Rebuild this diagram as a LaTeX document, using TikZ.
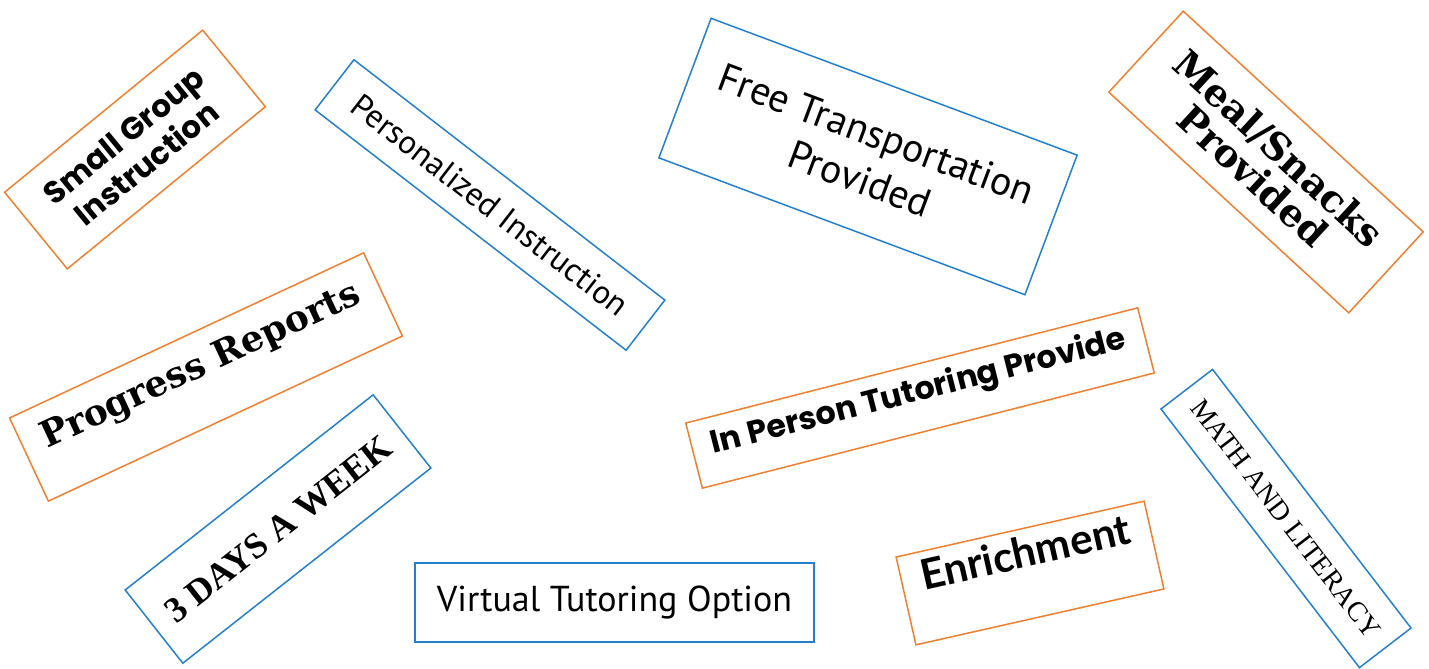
\documentclass[tikz,border=0pt]{standalone}
\usepackage{fontspec}
\usepackage{tikz}
\usetikzlibrary{positioning}

\newfontfamily\geofont{Poppins}
\newfontfamily\slabfont{DejaVu Serif}
\newfontfamily\handfont{PT Sans}
\newfontfamily\heavyfont{Lato}
\newfontfamily\capsfont{Liberation Serif}

\definecolor{tagorange}{RGB}{240,128,48}
\definecolor{tagblue}{RGB}{36,128,206}

\begin{document}
\begin{tikzpicture}[x=0.5pt,y=-0.5pt,
  tag/.style={draw,line width=0.75pt,inner sep=0pt,outer sep=0pt,align=center,text=black},
  orangetag/.style={tag,draw=tagorange},
  bluetag/.style={tag,draw=tagblue}]
 %\draw[help lines] (0,0) grid[step=100] (1429,669);
 \useasboundingbox (0,0) rectangle (1429,669);

 \node[orangetag,rotate=39.3,minimum width=128pt,minimum height=49.5pt,font=\geofont\bfseries\fontsize{15.5}{18}\selectfont] (small) at (135,149.5) {Small Group\\Instruction};
 \node[bluetag,rotate=-37.7,minimum width=196.5pt,minimum height=31.7pt,font=\handfont\fontsize{16.5}{19}\selectfont] (personal) at (490,205) {Personalized Instruction};
 \node[bluetag,rotate=-20.5,minimum width=195.4pt,minimum height=74.5pt,font=\handfont\fontsize{20}{24}\selectfont] (transport) at (868,156.5) {Free Transportation\\Provided};
 \node[orangetag,rotate=-42.6,minimum width=163pt,minimum height=55pt,font=\slabfont\bfseries\fontsize{19}{19}\selectfont] (meal) at (1266,162) {Meal/Snacks\\Provided};

 \node[orangetag,rotate=25,minimum width=195.3pt,minimum height=45.9pt,text depth=15pt,font=\slabfont\bfseries\fontsize{18}{21}\selectfont] (progress) at (206,377) {Progress Reports};
 \node[bluetag,rotate=38.2,minimum width=157.8pt,minimum height=46.6pt,font=\capsfont\bfseries\fontsize{18}{21}\selectfont] (days) at (278,529) {3 DAYS A WEEK};
 \node[bluetag,minimum width=199.5pt,minimum height=39.5pt,font=\handfont\fontsize{18}{21}\selectfont] (virtual) at (614.5,602.5) {Virtual Tutoring Option};

 \node[orangetag,rotate=14.3,minimum width=233.2pt,minimum height=33.6pt,text depth=10pt,font=\geofont\bfseries\fontsize{15.9}{18}\selectfont] (inperson) at (920,398) {In Person Tutoring Provide};
 \node[orangetag,rotate=12.7,minimum width=127.1pt,minimum height=45pt,text depth=22pt,font=\heavyfont\bfseries\fontsize{21}{24}\selectfont] (enrich) at (1030,573) {Enrichment};
 \node[bluetag,rotate=-52.5,minimum width=163pt,minimum height=32.5pt,font=\capsfont\fontsize{14}{17}\selectfont] (mathlit) at (1286,518.5) {MATH AND LITERACY};
\end{tikzpicture}
\end{document}
